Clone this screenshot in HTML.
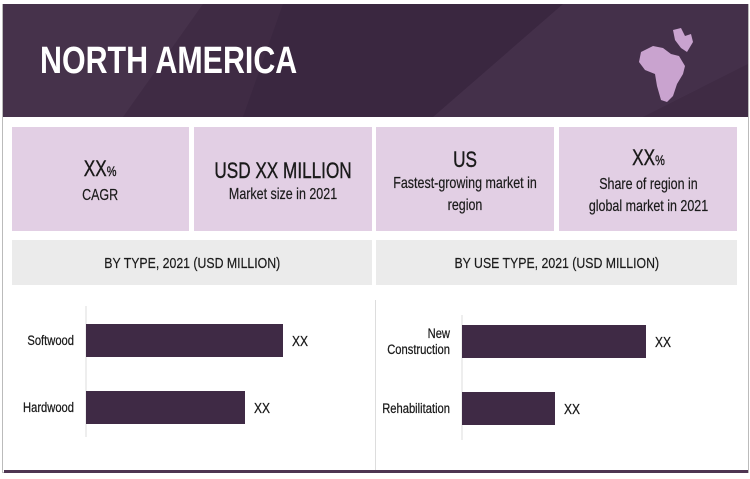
<!DOCTYPE html>
<html><head><meta charset="utf-8"><style>
body{margin:0;width:750px;height:479px;background:#fff;overflow:hidden;font-family:"Liberation Sans",sans-serif;}
.abs{position:absolute}
.card{position:absolute;top:127px;height:104px;background:#e2cfe4;color:#1a1a1a;text-align:center;display:flex;flex-direction:column;justify-content:center;align-items:center}
.cin{transform:scaleX(0.78);white-space:nowrap;padding-top:4px}
.big{font-size:22px;line-height:27px;-webkit-text-stroke:0.4px #1a1a1a}
.small{font-size:16px;line-height:22px;-webkit-text-stroke:0.2px #1a1a1a}
.gb{position:absolute;top:240px;height:45px;background:#ebebeb;font-size:15px;line-height:47px;text-align:center;color:#1a1a1a}
.gb span{display:inline-block;transform:scaleX(0.82);-webkit-text-stroke:0.2px #1a1a1a}
</style></head><body>
<div class="abs" style="left:2px;top:4px;width:745px;height:467px;border:1px solid #bbb;"></div>
<div class="abs" style="left:3px;top:4px;width:745px;height:113px;background:#3f2b44;overflow:hidden">
<svg width="745" height="113" style="position:absolute;left:0;top:0">
<polygon points="0,0 200,0 120,113 0,113" fill="#46324b"/>
<polygon points="280,0 560,0 430,113 240,113" fill="#3a2740"/>
<polygon points="560,0 745,0 745,60 640,113 430,113" fill="#44304a"/>
</svg>
<div class="abs" style="left:37px;top:36px;color:#fff;font-weight:bold;font-size:38px;transform:scaleX(0.8);transform-origin:0 0;white-space:nowrap">NORTH AMERICA</div>
<svg class="abs" style="left:630px;top:18px" width="85" height="85"><path d="M8,30 L20,24 30,26 38,32 46,34 52,44 50,52 44,62 40,74 34,80 28,78 24,64 22,52 12,48 6,40Z" fill="#c9a3cf"/><path d="M40,8 L48,6 52,14 58,12 60,20 54,30 48,26 42,18Z" fill="#c9a3cf"/></svg>
</div>
<div class="card" style="left:12px;width:177px"><div class="cin"><div class="big">XX<span style="font-size:14px">%</span></div><div class="small">CAGR</div></div></div>
<div class="card" style="left:194px;width:178px"><div class="cin"><div class="big">USD XX MILLION</div><div class="small">Market size in 2021</div></div></div>
<div class="card" style="left:376px;width:178px"><div class="cin"><div class="big">US</div><div class="small">Fastest-growing market in<br>region</div></div></div>
<div class="card" style="left:559px;width:178px"><div class="cin"><div class="big">XX<span style="font-size:14px">%</span></div><div class="small">Share of region in<br>global market in 2021</div></div></div>
<div class="gb" style="left:12px;width:360px"><span>BY TYPE, 2021 (USD MILLION)</span></div>
<div class="gb" style="left:376px;width:361px"><span>BY USE TYPE, 2021 (USD MILLION)</span></div>
<div class="abs" style="left:375px;top:300px;width:1px;height:170px;background:#ddd"></div>
<div class="abs" style="left:4px;top:470px;width:744px;height:3px;background:#4e3552"></div>
<svg id="chart" class="abs" style="left:0;top:0" width="750" height="479"></svg>
<script>
const typeCats=["Softwood","Hardwood"];
const typeVals=[78.8,63.6];
const useCats=["New|Construction","Rehabilitation"];
const useVals=[73.6,37.2];
const valueLabels=["XX","XX"];
const svg=document.getElementById('chart');
const NS='http://www.w3.org/2000/svg';
function label(x,y,txt,anchor,size,name){
  const g=document.createElementNS(NS,'g');
  g.setAttribute('transform','translate('+x+','+y+') scale(0.8,1)');
  const t=document.createElementNS(NS,'text');
  t.setAttribute('text-anchor',anchor);t.setAttribute('font-size',size);t.setAttribute('fill','#1a1a1a');
  t.setAttribute('stroke','#1a1a1a');t.setAttribute('stroke-width','0.25');
  t.setAttribute('font-family','"Liberation Sans",sans-serif');
  t.textContent=txt;
  
  
  g.appendChild(t);svg.appendChild(g);
}
function draw(cats,vals,x0,axisTop,axisBot,barTops,prefix){
  const xs=v=>x0+v*2.5;
  const ax=document.createElementNS(NS,'line');
  ax.setAttribute('x1',x0);ax.setAttribute('x2',x0);ax.setAttribute('y1',axisTop);ax.setAttribute('y2',axisBot);
  ax.setAttribute('stroke','#ddd');
  
  
  svg.appendChild(ax);
  cats.forEach((c,i)=>{
    const y=barTops[i];
    const r=document.createElementNS(NS,'rect');
    r.setAttribute('x',x0);r.setAttribute('y',y);r.setAttribute('width',xs(vals[i])-x0);r.setAttribute('height',33);
    r.setAttribute('fill','#3f2a45');
    
    
    svg.appendChild(r);
    const lines=c.split('|');
    lines.forEach((ln,j)=>{
      label(x0-12,y+21+(j-(lines.length-1)/2)*16,ln,'end',14,'category-label');
    });
    label(xs(vals[i])+9,y+22,valueLabels[i],'start',15,'value-label');
  });
}
draw(typeCats,typeVals,86,306,437,[324,391],'type');
draw(useCats,useVals,462,315,440,[325,392],'use');
</script>
</body></html>
